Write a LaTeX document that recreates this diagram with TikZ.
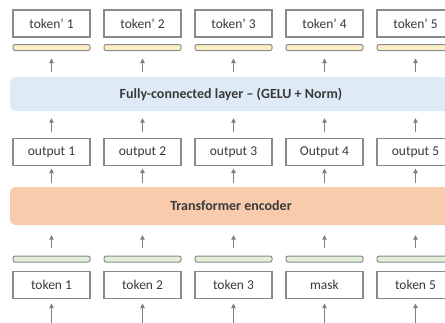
\documentclass[tikz,border=0pt]{standalone}
\usepackage{fontspec}
\setmainfont{Carlito}
\usetikzlibrary{arrows.meta}
\definecolor{boxgray}{HTML}{8A8A8A}
\definecolor{arrgray}{HTML}{7F7F7F}
\definecolor{txt}{HTML}{3A3A3A}
\definecolor{ylw}{HTML}{FCEFC4}
\definecolor{grn}{HTML}{E2F0D9}
\definecolor{bluebg}{HTML}{DEEBF7}
\definecolor{orng}{HTML}{F8CBAD}
\begin{document}
\begin{tikzpicture}[x=1pt,y=-1pt,
  box/.style={draw=boxgray, line width=1.1pt, fill=white, minimum width=77pt, minimum height=27pt, inner sep=0pt, text=txt, font=\fontsize{13.5}{16}\selectfont},
  bar/.style={draw=boxgray, line width=1pt, rounded corners=2pt, minimum width=77pt, minimum height=6pt, inner sep=0pt},
  band/.style={rounded corners=6pt, inner sep=0pt, minimum width=442pt, text=txt, font=\fontsize{14}{16}\selectfont\bfseries},
  arr/.style={draw=arrgray, line width=1pt, -{Triangle[length=4.5pt,width=4.5pt]}}]
\useasboundingbox[clip] (0,0) rectangle (445,322);
\node[band, fill=bluebg, minimum height=34pt] (fc) at (231,94) {Fully-connected layer -- (GELU + Norm)};
\node[band, fill=orng, minimum height=38pt] (enc) at (231,206) {Transformer encoder};
\foreach \i/\x/\o/\t in {1/51.5/output 1/token 1, 2/142.5/output 2/token 2, 3/233.5/output 3/token 3, 4/324.5/Output 4/mask, 5/415.5/output 5/token 5}{
  \node[box] (tp\i) at (\x,23.5) {token’ \i};
  \node[bar, fill=ylw] (yb\i) at (\x,47.5) {};
  \node[box] (op\i) at (\x,152) {\o};
  \node[bar, fill=grn] (gb\i) at (\x,259) {};
  \node[box] (tk\i) at (\x,285) {\t};
  \coordinate (in\i) at (\x,326);
  \draw[arr, shorten <=5pt, shorten >=7.5pt] (fc.north -| yb\i.south) -- (yb\i.south);
  \draw[arr, shorten <=5.5pt, shorten >=7pt] (op\i.north) -- (op\i.north |- fc.south);
  \draw[arr, shorten <=4pt, shorten >=2.5pt] (enc.north -| op\i.south) -- (op\i.south);
  \draw[arr, shorten <=8pt, shorten >=10pt] (gb\i.north) -- (gb\i.north |- enc.south);
  \draw[arr, shorten >=4.5pt] (in\i) -- (tk\i.south);
}
\end{tikzpicture}
\end{document}
